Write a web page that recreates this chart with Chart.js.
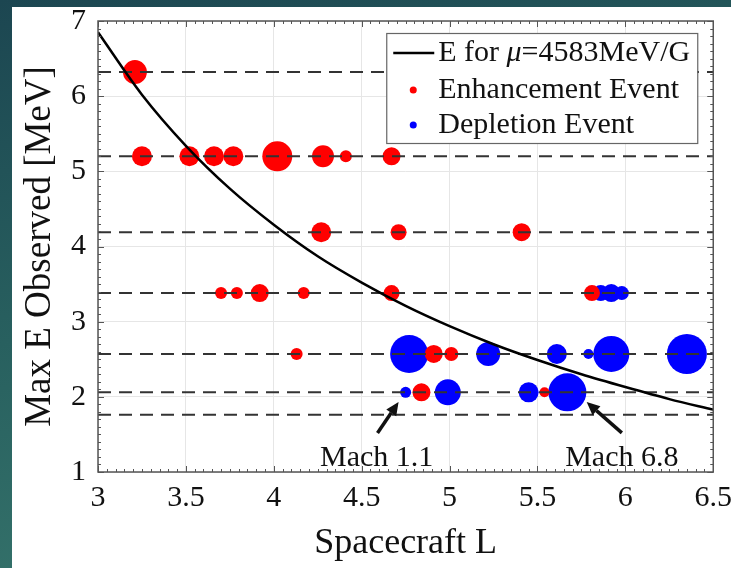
<!DOCTYPE html>
<html>
<head>
<meta charset="utf-8">
<script src="https://cdn.jsdelivr.net/npm/chart.js@4.4.1/dist/chart.umd.min.js"></script>
<style>
  html, body { margin: 0; padding: 0; }
  body {
    width: 731px; height: 568px; overflow: hidden; position: relative;
    background: linear-gradient(165deg, #1c4651 0%, #28605f 45%, #3b7c71 100%);
  }
  #panel { position: absolute; left: 12px; top: 7px; right: 0; bottom: 0; background: #fff; }
  #wrap { position: absolute; left: 0; top: 0; width: 740px; height: 568px; }
</style>
</head>
<body>
<div id="panel"></div>
<div id="wrap"><canvas id="chart-mach"></canvas></div>
<script>
// Max energy observed vs spacecraft L

// E for mu = 4583 MeV/G
const curveL = [3, 3.25, 3.5, 3.75, 4, 4.25, 4.5, 4.75, 5, 5.25, 5.5, 5.75, 6, 6.25, 6.5];
const curveE = [6.85, 6.02, 5.34, 4.77, 4.29, 3.87, 3.52, 3.21, 2.94, 2.70, 2.49, 2.30, 2.13, 1.97, 1.83];

// energy channels (dashed lines)
const channelE = [6.32, 5.2, 4.19, 3.38, 2.57, 2.06, 1.76];

// enhancement events
const enhL = [3.21, 3.25, 3.52, 3.66, 3.77, 4.02, 4.28, 4.41, 4.67,
              4.27, 4.71, 5.41,
              3.70, 3.79, 3.92, 4.17, 4.67, 5.81,
              4.13, 4.91, 5.01,
              4.84, 5.54];
const enhE = [6.32, 5.2, 5.2, 5.2, 5.2, 5.2, 5.2, 5.2, 5.2,
              4.19, 4.19, 4.19,
              3.38, 3.38, 3.38, 3.38, 3.38, 3.38,
              2.57, 2.57, 2.57,
              2.06, 2.06];
const enhSize = [12, 10, 10, 10, 10, 15, 11, 6, 9,
                 10, 8, 9,
                 6, 6, 9, 6, 8, 8,
                 6, 9, 7,
                 9, 5];

// depletion events
const depL = [5.86, 5.92, 5.98,
              4.77, 5.22, 5.61, 5.79, 5.92, 6.35,
              4.75, 4.99, 5.45, 5.67];
const depE = [3.38, 3.38, 3.38,
              2.57, 2.57, 2.57, 2.57, 2.57, 2.57,
              2.06, 2.06, 2.06, 2.06];
const depSize = [8, 9, 7,
                 19, 12, 10, 5, 18, 20,
                 5.5, 13, 10, 19];

// annotations
const noteText = ['Mach 1.1', 'Mach 6.8'];
const noteL = [4.585, 5.98];
const noteE = [1.18, 1.18];
const arrowFromL = [4.59, 5.98];
const arrowFromE = [1.52, 1.52];
const arrowToL = [4.71, 5.78];
const arrowToE = [1.93, 1.93];

const SERIF = "'Liberation Serif', 'Times New Roman', serif";
const RED = '#ff0000';
const BLUE = '#0000ff';

const framePlugin = {
  id: 'frame',
  afterDatasetsDraw(chart) {
    const { ctx, chartArea: a, scales: { x, y } } = chart;
    ctx.save();
    ctx.strokeStyle = '#555';
    ctx.lineWidth = 1;
    ctx.beginPath();
    for (let k = 0; k <= 70; k++) {
      const px = Math.round(x.getPixelForValue(3 + k * 0.05)) + 0.5;
      const len = k % 10 === 0 ? 6 : 3;
      ctx.moveTo(px, a.bottom); ctx.lineTo(px, a.bottom - len);
      ctx.moveTo(px, a.top); ctx.lineTo(px, a.top + len);
    }
    for (let k = 0; k <= 60; k++) {
      const py = Math.round(y.getPixelForValue(1 + k * 0.1)) + 0.5;
      const len = k % 10 === 0 ? 6 : 3;
      ctx.moveTo(a.left, py); ctx.lineTo(a.left + len, py);
      ctx.moveTo(a.right, py); ctx.lineTo(a.right - len, py);
    }
    ctx.stroke();
    ctx.strokeStyle = '#555';
    ctx.lineWidth = 1.5;
    ctx.strokeRect(a.left, a.top, a.width, a.height);
    ctx.restore();
  }
};

const legendPlugin = {
  id: 'boxLegend',
  afterDatasetsDraw(chart) {
    const { ctx, chartArea: a } = chart;
    const ds = chart.data.datasets;
    const bx = a.right - 327, by = a.top + 12, bw = 311, bh = 110;
    ctx.save();
    ctx.fillStyle = '#fff';
    ctx.fillRect(bx, by, bw, bh);
    ctx.strokeStyle = '#666';
    ctx.lineWidth = 1.2;
    ctx.strokeRect(bx + 0.5, by + 0.5, bw, bh);

    const rows = [by + 20, by + 57, by + 92];
    const tx = bx + 52;
    ctx.textBaseline = 'middle';
    ctx.fillStyle = '#111';

    // curve entry
    ctx.strokeStyle = '#000';
    ctx.lineWidth = 2.5;
    ctx.beginPath();
    ctx.moveTo(bx + 7, rows[0]); ctx.lineTo(bx + 48, rows[0]);
    ctx.stroke();
    const parts = ds[0].label.split('μ');
    let cx = tx;
    ctx.font = '30px ' + SERIF;
    ctx.fillText(parts[0], cx, rows[0]);
    cx += ctx.measureText(parts[0]).width;
    ctx.font = 'italic 30px ' + SERIF;
    ctx.fillText('μ', cx, rows[0]);
    cx += ctx.measureText('μ').width;
    ctx.font = '30px ' + SERIF;
    ctx.fillText(parts[1], cx, rows[0]);

    // event entries
    const entries = [ds.find(d => d.label === 'Enhancement Event'), ds.find(d => d.label === 'Depletion Event')];
    entries.forEach((d, i) => {
      ctx.fillStyle = d.backgroundColor;
      ctx.beginPath();
      ctx.arc(bx + 27, rows[i + 1], 3.5, 0, Math.PI * 2);
      ctx.fill();
      ctx.fillStyle = '#111';
      ctx.fillText(d.label, tx, rows[i + 1]);
    });
    ctx.restore();
  }
};

const notePlugin = {
  id: 'notes',
  afterDatasetsDraw(chart) {
    const { ctx, scales: { x, y } } = chart;
    ctx.save();
    ctx.fillStyle = '#111';
    ctx.strokeStyle = '#111';
    ctx.font = '30px ' + SERIF;
    ctx.textAlign = 'center';
    ctx.textBaseline = 'middle';
    noteText.forEach((t, i) => {
      ctx.fillText(t, x.getPixelForValue(noteL[i]), y.getPixelForValue(noteE[i]));
      const x0 = x.getPixelForValue(arrowFromL[i]), y0 = y.getPixelForValue(arrowFromE[i]);
      const x1 = x.getPixelForValue(arrowToL[i]), y1 = y.getPixelForValue(arrowToE[i]);
      const ang = Math.atan2(y1 - y0, x1 - x0);
      const hl = 13, hw = 6;
      const bxp = x1 - hl * Math.cos(ang), byp = y1 - hl * Math.sin(ang);
      ctx.lineWidth = 3.5;
      ctx.beginPath();
      ctx.moveTo(x0, y0); ctx.lineTo(bxp, byp);
      ctx.stroke();
      ctx.beginPath();
      ctx.moveTo(x1, y1);
      ctx.lineTo(bxp + hw * Math.sin(ang), byp - hw * Math.cos(ang));
      ctx.lineTo(bxp - hw * Math.sin(ang), byp + hw * Math.cos(ang));
      ctx.closePath();
      ctx.fill();
    });
    ctx.restore();
  }
};

function initChart() {
  Chart.defaults.font.family = SERIF;
  Chart.defaults.color = '#111';

  const curveData = curveL.map((l, i) => ({ x: l, y: curveE[i] }));
  const channelSets = channelE.map(e => ({
    type: 'line',
    label: 'channel',
    data: [{ x: 3, y: e }, { x: 6.5, y: e }],
    borderColor: '#333',
    borderWidth: 2,
    borderDash: [13, 8],
    pointRadius: 0,
    fill: false
  }));

  new Chart(document.getElementById('chart-mach'), {
    type: 'bubble',
    data: {
      datasets: [
        {
          type: 'line',
          label: 'E for μ=4583MeV/G',
          data: curveData,
          borderColor: '#000',
          borderWidth: 2.5,
          pointRadius: 0,
          cubicInterpolationMode: 'monotone',
          fill: false
        },
        ...channelSets,
        {
          label: 'Enhancement Event',
          data: enhL.map((l, i) => ({ x: l, y: enhE[i], r: enhSize[i] })),
          backgroundColor: RED,
          borderColor: RED,
          borderWidth: 0
        },
        {
          label: 'Depletion Event',
          data: depL.map((l, i) => ({ x: l, y: depE[i], r: depSize[i] })),
          backgroundColor: BLUE,
          borderColor: BLUE,
          borderWidth: 0
        }
      ]
    },
    options: {
      responsive: false,
      animation: false,
      layout: { padding: { top: 21, right: 20, left: 0, bottom: 0 } },
      plugins: { legend: { display: false }, tooltip: { enabled: false } },
      scales: {
        x: {
          type: 'linear',
          min: 3, max: 6.5,
          afterFit: s => { s.height = 96; },
          ticks: { stepSize: 0.5, padding: 8, font: { size: 30 }, color: '#111', callback: v => String(v) },
          grid: { color: '#e6e6e6', drawTicks: false },
          border: { display: false },
          title: { display: true, text: 'Spacecraft L', font: { size: 36 }, color: '#111', padding: { top: 0, bottom: 3 } }
        },
        y: {
          min: 1, max: 7,
          afterFit: s => { s.width = 98; s.paddingTop = 0; s.paddingBottom = 0; },
          ticks: { stepSize: 1, padding: 12, font: { size: 30 }, color: '#111' },
          grid: { color: '#e6e6e6', drawTicks: false },
          border: { display: false },
          title: { display: true, text: 'Max E Observed [MeV]', font: { size: 37 }, color: '#111', padding: { top: 18, bottom: 0 } }
        }
      }
    },
    plugins: [framePlugin, legendPlugin, notePlugin]
  });
}

const cv = document.getElementById('chart-mach');
cv.width = 740; cv.height = 568;
initChart();
</script>
</body>
</html>
